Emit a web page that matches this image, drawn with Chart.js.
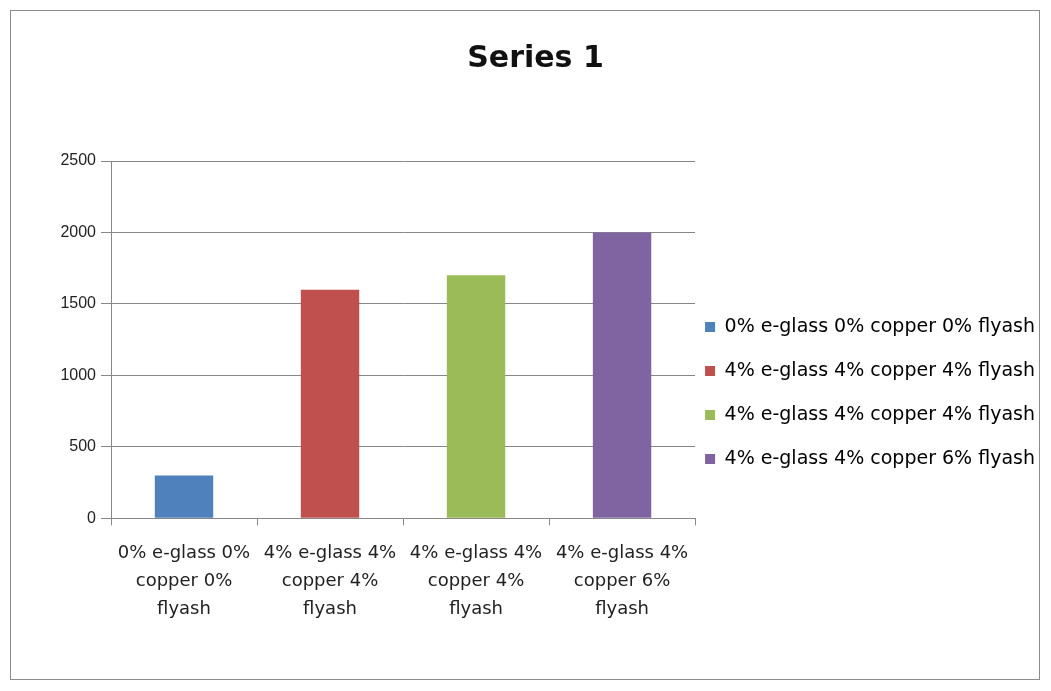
<!DOCTYPE html>
<html>
<head>
<meta charset="utf-8">
<script src="https://cdn.jsdelivr.net/npm/chart.js@4/dist/chart.umd.min.js"></script>
<style>
  body { margin: 0; background: #fff; }
  #box {
    position: absolute; left: 10px; top: 10px;
    width: 1030px; height: 670px;
    border: 1px solid #8c8c8c; box-sizing: border-box;
  }
</style>
</head>
<body>
<div id="box"><canvas id="chart"></canvas></div>
<script>
// chart data
const categories = [
  ["0% e-glass 0%", "copper 0%", "flyash"],
  ["4% e-glass 4%", "copper 4%", "flyash"],
  ["4% e-glass 4%", "copper 4%", "flyash"],
  ["4% e-glass 4%", "copper 6%", "flyash"]
];
const legendNames = [
  "0% e-glass 0% copper 0% flyash",
  "4% e-glass 4% copper 4% flyash",
  "4% e-glass 4% copper 4% flyash",
  "4% e-glass 4% copper 6% flyash"
];
const values = [300, 1600, 1700, 2000];
const barColors = ["#4F81BD", "#C0504D", "#9BBB59", "#8064A2"];
const yTicks = [0, 500, 1000, 1500, 2000, 2500];

const font = "'DejaVu Sans', sans-serif";
const gridColor = "#878787";

// nudge the legend: Excel puts it closer to the plot and a bit lower
const legendNudge = {
  id: "legendNudge",
  afterLayout(chart) {
    const lg = chart.legend;
    lg.left -= 15; lg.right -= 15;
    lg.top += 59; lg.bottom += 59;
  }
};

new Chart(document.getElementById("chart"), {
  type: "bar",
  data: {
    labels: categories,
    datasets: [{
      label: "Series 1",
      data: values,
      backgroundColor: barColors,
      categoryPercentage: 1,
      barPercentage: 0.4
    }]
  },
  plugins: [legendNudge],
  options: {
    responsive: true,
    maintainAspectRatio: false,
    animation: false,
    layout: { padding: { top: 20, bottom: 42, left: 0, right: -21 } },
    plugins: {
      title: {
        display: true,
        text: "Series 1",
        color: "#111",
        font: { family: font, size: 30, weight: "bold" },
        padding: { top: 10, bottom: 84 }
      },
      legend: {
        position: "right",
        maxWidth: 400,
        labels: {
          color: "#222",
          font: { family: font, size: 19 },
          boxWidth: 10,
          boxHeight: 10,
          padding: 25,
          generateLabels: () => legendNames.map((name, i) => ({
            text: name,
            fillStyle: barColors[i],
            strokeStyle: barColors[i],
            lineWidth: 0,
            index: i
          }))
        }
      },
      tooltip: { enabled: false }
    },
    scales: {
      x: {
        grid: { drawOnChartArea: false, color: gridColor, tickLength: 7 },
        border: { color: gridColor },
        ticks: {
          color: "#222",
          font: { family: font, size: 18, lineHeight: 1.55 },
          padding: 14,
          maxRotation: 0,
          autoSkip: false
        }
      },
      y: {
        min: 0,
        max: 2500,
        afterFit: (s) => { s.width = 100; },
        afterBuildTicks: (s) => { s.ticks = yTicks.map(v => ({ value: v })); },
        grid: { color: gridColor, tickLength: 10 },
        border: { color: gridColor },
        ticks: {
          color: "#222",
          font: { family: "'Liberation Sans', sans-serif", size: 16 },
          padding: 5,
          callback: (v) => String(v)
        }
      }
    }
  }
});
</script>
</body>
</html>
